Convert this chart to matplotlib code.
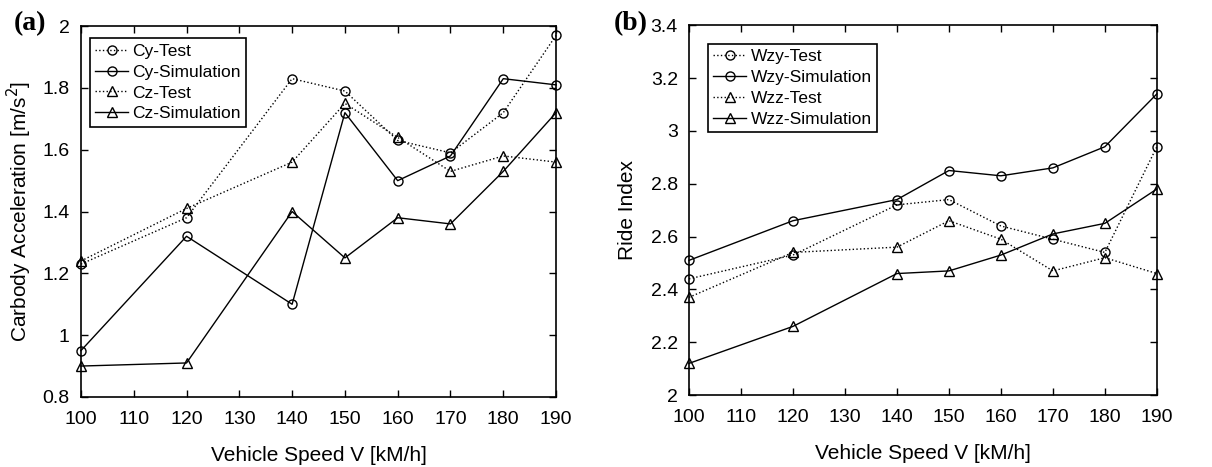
import matplotlib.pyplot as plt

plt.rcParams['font.family'] = ['Liberation Sans', 'DejaVu Sans']

speed = [100, 120, 140, 150, 160, 170, 180, 190]

# (a) carbody acceleration
cy_test = [1.23, 1.38, 1.83, 1.79, 1.63, 1.59, 1.72, 1.97]
cy_sim = [0.95, 1.32, 1.10, 1.72, 1.50, 1.58, 1.83, 1.81]
cz_test = [1.24, 1.41, 1.56, 1.75, 1.64, 1.53, 1.58, 1.56]
cz_sim = [0.90, 0.91, 1.40, 1.25, 1.38, 1.36, 1.53, 1.72]

# (b) ride index
wzy_test = [2.44, 2.53, 2.72, 2.74, 2.64, 2.59, 2.54, 2.94]
wzy_sim = [2.51, 2.66, 2.74, 2.85, 2.83, 2.86, 2.94, 3.14]
wzz_test = [2.37, 2.54, 2.56, 2.66, 2.59, 2.47, 2.52, 2.46]
wzz_sim = [2.12, 2.26, 2.46, 2.47, 2.53, 2.61, 2.65, 2.78]

fig = plt.figure(figsize=(12.12, 4.67), dpi=100)
ax1 = fig.add_axes([0.0668, 0.150, 0.392, 0.794])
ax2 = fig.add_axes([0.5685, 0.154, 0.386, 0.792])

styles = [(':', 'o'), ('-', 'o'), (':', '^'), ('-', '^')]


def draw(ax, series, labels, leg_anchor):
    for (ls, mk), ys, lab in zip(styles, series, labels):
        ax.plot(speed, ys, linestyle=ls, marker=mk, color='black', lw=1.0,
                markersize=6.5, markerfacecolor='none', markeredgewidth=1.0,
                label=lab, clip_on=False, zorder=3)
    ax.set_xlim(100, 190)
    ax.set_xticks(range(100, 191, 10))
    ax.tick_params(direction='in', top=True, right=True, labelsize=14,
                   length=5, width=1)
    ax.tick_params(axis='x', pad=10)
    ax.tick_params(axis='y', pad=8)
    for s in ax.spines.values():
        s.set_linewidth(1.2)
    ax.set_xlabel('Vehicle Speed V [kM/h]', fontsize=15, labelpad=13)
    leg = ax.legend(loc='upper left', bbox_to_anchor=leg_anchor,
                    bbox_transform=ax.transAxes, borderaxespad=0,
                    fontsize=12.5, handlelength=1.9, handletextpad=0.25,
                    labelspacing=0.33, borderpad=0.3, fancybox=False,
                    framealpha=1, edgecolor='black')
    leg.get_frame().set_linewidth(1.2)


draw(ax1, [cy_test, cy_sim, cz_test, cz_sim],
     ['Cy-Test', 'Cy-Simulation', 'Cz-Test', 'Cz-Simulation'],
     (0.019, 0.967))
ax1.set_ylim(0.8, 2.0)
ax1.set_yticks([0.8, 1.0, 1.2, 1.4, 1.6, 1.8, 2.0])
ax1.set_yticklabels(['0.8', '1', '1.2', '1.4', '1.6', '1.8', '2'])
ax1.set_ylabel('Carbody Acceleration [m/s$^2$]', fontsize=15, labelpad=6)

draw(ax2, [wzy_test, wzy_sim, wzz_test, wzz_sim],
     ['Wzy-Test', 'Wzy-Simulation', 'Wzz-Test', 'Wzz-Simulation'],
     (0.041, 0.949))
ax2.set_ylim(2.0, 3.4)
ax2.set_yticks([2.0, 2.2, 2.4, 2.6, 2.8, 3.0, 3.2, 3.4])
ax2.set_yticklabels(['2', '2.2', '2.4', '2.6', '2.8', '3', '3.2', '3.4'])
ax2.set_ylabel('Ride Index', fontsize=15, labelpad=10)

fig.text(0.011, 0.936, '(a)', fontsize=20, fontweight='bold',
         family='Liberation Serif', va='baseline')
fig.text(0.5066, 0.936, '(b)', fontsize=20, fontweight='bold',
         family='Liberation Serif', va='baseline')

fig.savefig('out.png', dpi=100)
